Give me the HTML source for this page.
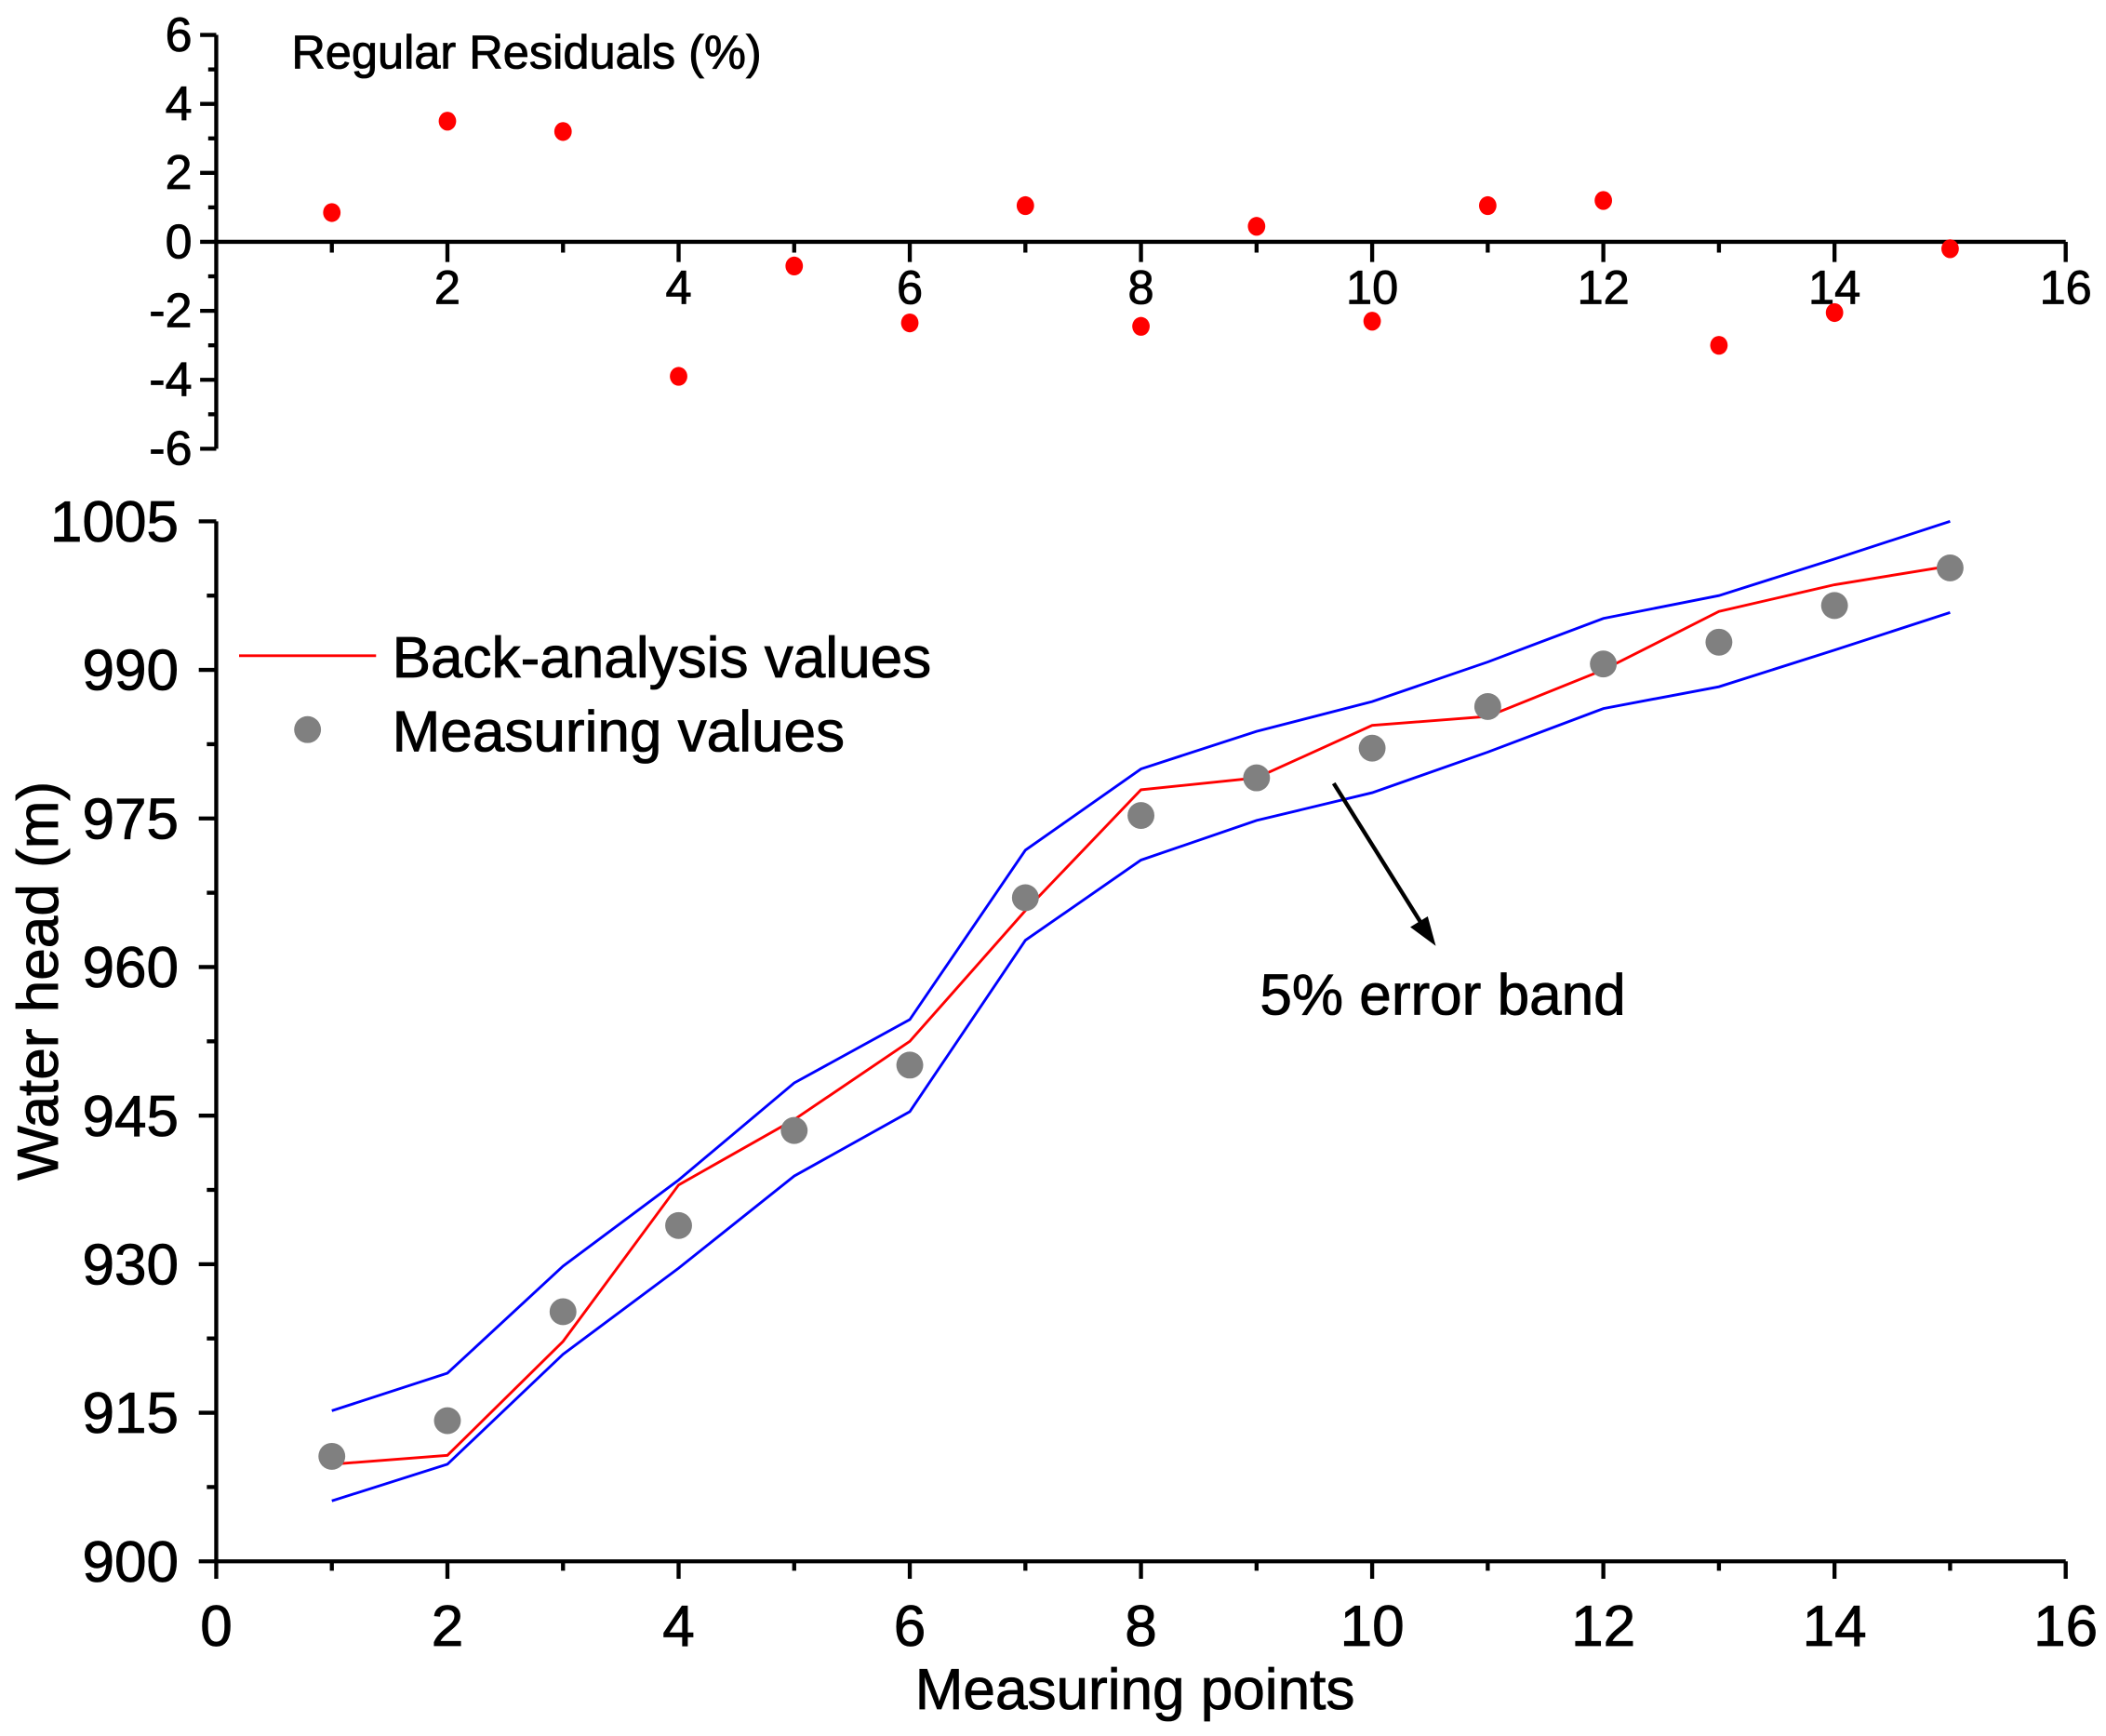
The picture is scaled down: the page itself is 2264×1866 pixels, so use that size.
<!DOCTYPE html>
<html><head><meta charset="utf-8"><style>
html,body{margin:0;padding:0;background:#fff;}
svg{display:block;font-family:"Liberation Sans",Arial,sans-serif;}
text{stroke:#000;stroke-width:0.6px;}
</style></head><body>
<svg id="chart" width="2264" height="1866" viewBox="0 0 1568 1292" preserveAspectRatio="none" xmlns="http://www.w3.org/2000/svg">
<rect width="1568" height="1292" fill="#fff"/>
<g id="g"></g>
</svg>
<script>
const points=[1,2,3,4,5,6,7,8,9,10,11,12,13,14,15];
const backAnalysis=[909.8,910.7,922.2,938,944.6,952.5,965.7,977.9,979.1,984.4,985.3,990,995.9,998.6,1000.5];
const upperBand=[915.2,919,929.8,938.5,948.3,954.7,971.8,980,983.8,986.8,990.8,995.2,997.5,1001.2,1005];
const lowerBand=[906.1,909.8,920.9,929.6,938.9,945.4,962.7,970.8,974.8,977.6,981.7,986.1,988.3,992,995.8];
const measured=[910.6,914.2,925.2,933.9,943.5,950.1,967,975.3,979.1,982.1,986.3,990.6,992.8,996.5,1000.3];
const residuals=[0.85,3.5,3.2,-3.9,-0.7,-2.35,1.05,-2.45,0.45,-2.3,1.05,1.2,-3.0,-2.05,-0.2];
const xTicks=[0,2,4,6,8,10,12,14,16];
const yTicks=[900,915,930,945,960,975,990,1005];
const rTicks=[-6,-4,-2,0,2,4,6];
const rxTicks=[2,4,6,8,10,12,14,16];

const NS="http://www.w3.org/2000/svg";
const G=document.getElementById('g');
function el(t,a,txt){const e=document.createElementNS(NS,t);for(const k in a)e.setAttribute(k,a[k]);if(txt!==undefined)e.textContent=txt;G.appendChild(e);return e;}
const X=v=>161+(v)*(1538-161)/16;
const Y=v=>1162-(v-900)*(1162-388)/105;
const R=v=>180-v*(334-26)/12;

let e;
e=el('line',{x1:161,y1:1162,x2:1538,y2:1162,stroke:'#000','stroke-width':3});

e=el('line',{x1:161,y1:388,x2:161,y2:1163,stroke:'#000','stroke-width':3});

for(let v=0;v<=16;v++){const maj=v%2===0;
 el('line',{x1:X(v),y1:1162,x2:X(v),y2:1162+(maj?13:7),stroke:'#000','stroke-width':3});}
xTicks.forEach(v=>{e=el('text',{x:X(v),y:1225,'text-anchor':'middle','font-size':43},String(v));
 });
for(let v=900;v<=1005;v+=7.5){const maj=Math.abs((v-900)%15)<0.01;
 el('line',{x1:161-(maj?13:7),y1:Y(v),x2:161,y2:Y(v),stroke:'#000','stroke-width':3});}
yTicks.forEach(v=>{e=el('text',{x:133,y:Y(v)+15,'text-anchor':'end','font-size':43},String(v));
 });
e=el('text',{x:845,y:1272,'text-anchor':'middle','font-size':43},'Measuring points');

e=el('text',{x:0,y:0,'text-anchor':'middle','font-size':43,transform:'translate(43,730) rotate(-90)'},'Water head (m)');


function line(arr,col,w,name){
 e=el('polyline',{points:arr.map((v,i)=>X(points[i])+','+Y(v)).join(' '),fill:'none',stroke:col,'stroke-width':w});
 }
line(upperBand,'#0000ff',2,'upper-error-band');
line(lowerBand,'#0000ff',2,'lower-error-band');
line(backAnalysis,'#ff0000',2,'back-analysis-line');
measured.forEach((v,i)=>{e=el('circle',{cx:X(points[i]),cy:Y(v),r:10,fill:'#808080'});
 });

e=el('line',{x1:178,y1:488,x2:280,y2:488,stroke:'#ff0000','stroke-width':2});

e=el('text',{x:292,y:504,'font-size':43},'Back-analysis values');

e=el('circle',{cx:229,cy:543,r:10,fill:'#808080'});

e=el('text',{x:292,y:559,'font-size':43},'Measuring values');


e=el('line',{x1:993,y1:583,x2:1060,y2:690,stroke:'#000','stroke-width':3});

e=el('polygon',{points:'1069,704 1050,690 1063,682',fill:'#000'});

e=el('text',{x:938,y:755,'font-size':43},'5% error band');


e=el('line',{x1:161,y1:26,x2:161,y2:334,stroke:'#000','stroke-width':3});

e=el('line',{x1:161,y1:180,x2:1538,y2:180,stroke:'#000','stroke-width':3});

for(let v=-6;v<=6;v++){const maj=v%2===0;
 el('line',{x1:161-(maj?12:6),y1:R(v),x2:161,y2:R(v),stroke:'#000','stroke-width':3});}
rTicks.forEach(v=>{e=el('text',{x:143,y:R(v)+12,'text-anchor':'end','font-size':36},String(v));
 });
for(let v=1;v<=16;v++){const maj=v%2===0;
 el('line',{x1:X(v),y1:180,x2:X(v),y2:180+(maj?15:8),stroke:'#000','stroke-width':3});}
rxTicks.forEach(v=>{e=el('text',{x:X(v),y:226,'text-anchor':'middle','font-size':35},String(v));
 });
e=el('text',{x:217,y:51,'font-size':35},'Regular Residuals (%)');

residuals.forEach((v,i)=>{e=el('ellipse',{cx:X(points[i]),cy:R(v),rx:6.5,ry:7,fill:'#ff0000'});
 });
</script>
</body></html>
